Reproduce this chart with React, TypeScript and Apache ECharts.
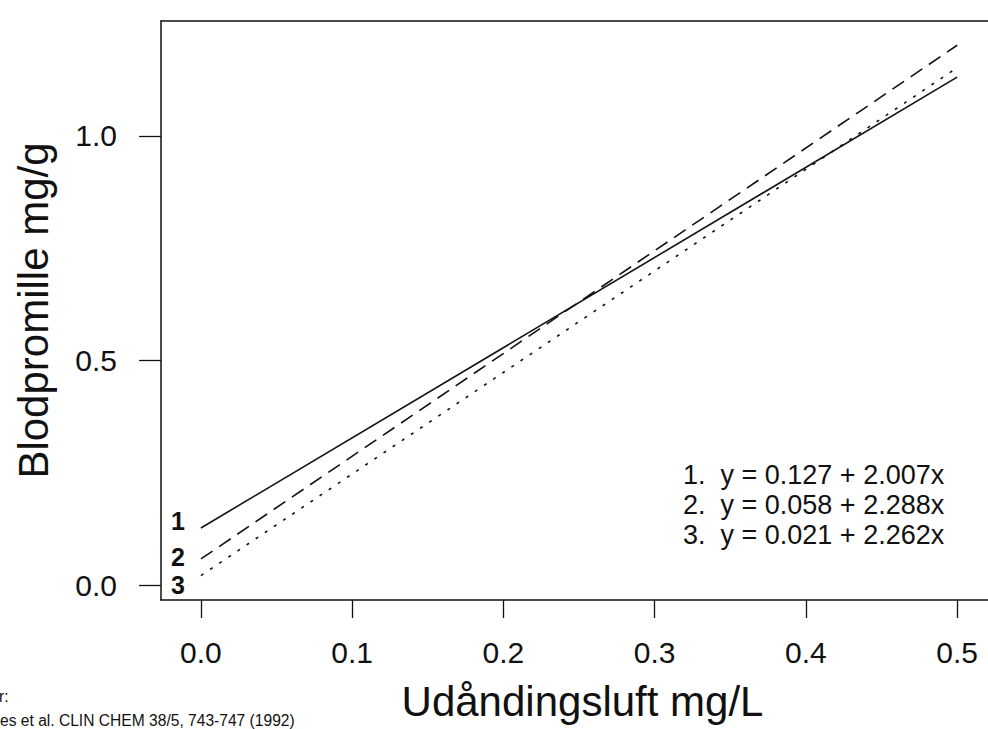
import React, { useEffect, useRef } from "react";
import * as echarts from "echarts";

const FONT = "Liberation Sans, Arial, Helvetica, sans-serif";

// x positions of the regression lines' end points (mg/L)
const xValues = [0, 0.5];
// y values (mg/g) of each regression line at those x positions
const line1 = [0.127, 1.131];
const line2 = [0.058, 1.202];
const line3 = [0.021, 1.152];
const lineNames = ["1", "2", "3"];
const equations = [
  "1.  y = 0.127 + 2.007x",
  "2.  y = 0.058 + 2.288x",
  "3.  y = 0.021 + 2.262x",
];
const xTicks = [0, 0.1, 0.2, 0.3, 0.4, 0.5];
const yTicks = [0, 0.5, 1.0];
const xTitle = "Udåndingsluft mg/L";
const yTitle = "Blodpromille mg/g";
const sourceText = "es et al. CLIN CHEM 38/5, 743-747 (1992)";
const sourceFragment = "r:";

const INK = "#111";

export default function App() {
  const ref = useRef<HTMLDivElement>(null);

  useEffect(() => {
    if (!ref.current) return;
    const chart = echarts.init(ref.current, undefined, { renderer: "svg" });

    const mkSeries = (vals: number[], idx: number, dash: any, labelOffsetY: number) => ({
      type: "line",
      name: lineNames[idx],
      showSymbol: true,
      symbol: "circle",
      symbolSize: 0,
      silent: true,
      lineStyle: { color: INK, width: 1.6, type: dash },
      itemStyle: { color: INK },
      data: xValues.map((x, i) => ({
        value: [x, vals[i]],
        label:
          i === 0
            ? {
                show: true,
                formatter: lineNames[idx],
                position: "left",
                distance: 16,
                offset: [0, labelOffsetY],
                fontSize: 25,
                fontWeight: "bold",
                fontFamily: FONT,
                color: INK,
              }
            : { show: false },
      })),
    });

    const option: any = {
      animation: false,
      backgroundColor: "#fff",
      grid: { left: 161, top: 21, width: 830, height: 579, containLabel: false },
      xAxis: [
        {
          type: "value",
          position: "bottom",
          min: -0.0264,
          max: 0.5204,
          axisLine: { show: true, onZero: false, lineStyle: { color: INK, width: 1.5 } },
          axisTick: { show: true, length: 18, customValues: xTicks, lineStyle: { color: INK, width: 1.3 } },
          axisLabel: {
            customValues: xTicks,
            formatter: (v: number) => v.toFixed(1),
            fontSize: 30,
            margin: 37,
            color: INK,
            fontFamily: FONT,
          },
          splitLine: { show: false },
          name: xTitle,
          nameLocation: "middle",
          nameGap: 80,
          nameTextStyle: { fontSize: 42, color: INK, fontFamily: FONT, padding: [0, 0, 0, 16] },
        },
        {
          type: "value",
          position: "top",
          min: -0.0264,
          max: 0.5204,
          axisLine: { show: true, onZero: false, lineStyle: { color: INK, width: 1.5 } },
          axisTick: { show: false },
          axisLabel: { show: false },
          splitLine: { show: false },
        },
      ],
      yAxis: {
        type: "value",
        min: -0.0334,
        max: 1.256,
        axisLine: { show: true, onZero: false, lineStyle: { color: INK, width: 1.5 } },
        axisTick: { show: true, length: 22, customValues: yTicks, lineStyle: { color: INK, width: 1.3 } },
        axisLabel: {
          customValues: yTicks,
          formatter: (v: number) => v.toFixed(1),
          fontSize: 30,
          margin: 44,
          color: INK,
          fontFamily: FONT,
        },
        splitLine: { show: false },
        name: yTitle,
        nameLocation: "middle",
        nameGap: 107,
        nameTextStyle: { fontSize: 42, color: INK, fontFamily: FONT },
      },
      series: [
        mkSeries(line1, 0, "solid", -7),
        mkSeries(line2, 1, [14, 8], -2),
        mkSeries(line3, 2, [3, 8], 9),
      ],
      graphic: [
        {
          type: "text",
          left: 683,
          top: 460,
          style: {
            text: equations.join("\n"),
            fontSize: 27,
            lineHeight: 30,
            fontFamily: FONT,
            fill: INK,
          },
        },
        {
          type: "text",
          left: -1,
          top: 688,
          style: { text: sourceFragment, fontSize: 15.6, fontFamily: FONT, fill: INK },
        },
        {
          type: "text",
          left: 0,
          top: 712,
          style: { text: sourceText, fontSize: 15.6, fontFamily: FONT, fill: INK },
        },
      ],
    };

    chart.setOption(option);
    return () => chart.dispose();
  }, []);

  return (
    <div
      ref={ref}
      style={{ position: "absolute", left: 0, top: 0, width: 988, height: 729, background: "#fff" }}
    />
  );
}
